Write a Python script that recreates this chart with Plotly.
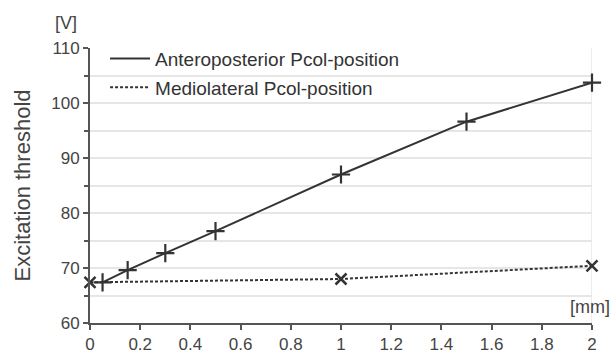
import plotly.graph_objects as go

ap_x = [0.05, 0.15, 0.3, 0.5, 1.0, 1.5, 2.0]
ap_y = [67.4, 69.6, 72.7, 76.7, 87.0, 96.6, 103.7]
ml_x = [0.0, 1.0, 2.0]
ml_y = [67.4, 68.0, 70.4]

ap_name = "Anteroposterior Pcol-position"
ml_name = "Mediolateral Pcol-position"
y_title = "Excitation threshold"
y_unit = "[V]"
x_unit = "[mm]"

LINE = "#333333"
DASH = "3px,2px"

fig = go.Figure()
fig.add_trace(go.Scatter(
    x=ap_x, y=ap_y, name=ap_name, mode="lines+markers", showlegend=False,
    line=dict(color=LINE, width=2),
    marker=dict(symbol="cross-thin", size=13, line=dict(color=LINE, width=2.2)),
    cliponaxis=False,
))
fig.add_trace(go.Scatter(
    x=ml_x, y=ml_y, name=ml_name, mode="lines+markers", showlegend=False,
    line=dict(color=LINE, width=2, dash=DASH),
    marker=dict(symbol="x-thin", size=11, line=dict(color=LINE, width=2.5)),
    cliponaxis=False,
))
# legend-only entries (line samples without markers)
fig.add_trace(go.Scatter(x=[None], y=[None], name=ap_name, mode="lines",
                         line=dict(color=LINE, width=2), legendgroup="a"))
fig.add_trace(go.Scatter(x=[None], y=[None], name=ml_name, mode="lines",
                         line=dict(color=LINE, width=2, dash=DASH), legendgroup="b"))

fig.update_layout(
    width=615, height=353,
    margin=dict(l=90, r=23, t=48, b=30, autoexpand=False),
    paper_bgcolor="white", plot_bgcolor="white",
    font=dict(family="Liberation Sans, Arial, sans-serif", color="#444444", size=17),
    showlegend=True,
    legend=dict(x=0.03, y=1.03, xanchor="left", yanchor="top",
                bgcolor="rgba(0,0,0,0)", font=dict(size=19, color="#333333"),
                tracegroupgap=1, itemwidth=40),
    annotations=[
        dict(text=y_unit, xref="paper", yref="paper", x=-0.022, y=1.0, yshift=25,
             xanchor="right", yanchor="middle", showarrow=False, font=dict(size=18)),
        dict(text=x_unit, xref="paper", yref="paper", x=1.04, y=0.0, yshift=16,
             xanchor="right", yanchor="middle", showarrow=False, font=dict(size=18)),
    ],
    shapes=[
        dict(type="line", xref="x", yref="paper", x0=2, x1=2, y0=0, y1=1,
             line=dict(color="#e6e6e6", width=1.5), layer="below"),
    ],
)

fig.update_xaxes(
    range=[0, 2], dtick=0.2, tick0=0, showgrid=False, zeroline=False, automargin=False,
    showline=True, linecolor="#555555", linewidth=2,
    ticks="outside", ticklen=5, tickwidth=2, tickcolor="#555555",
    tickfont=dict(size=17, color="#444444"),
)
fig.update_yaxes(
    range=[60, 110], dtick=10, tick0=60, showgrid=True, gridcolor="#e6e6e6", gridwidth=1.5,
    zeroline=False, showline=True, linecolor="#555555", linewidth=2, automargin=False,
    ticks="outside", ticklen=5, tickwidth=2, tickcolor="#555555",
    tickfont=dict(size=17, color="#444444"),
    minor=dict(dtick=5, tick0=60, ticks="outside", ticklen=4, tickwidth=2,
               tickcolor="#555555", showgrid=True, gridcolor="#e6e6e6", gridwidth=1.5),
    title=dict(text=y_title, font=dict(size=22, color="#444444"), standoff=15),
)

fig.write_html("out.html", config={"displayModeBar": False},
               post_script="document.body.style.margin='0';")
